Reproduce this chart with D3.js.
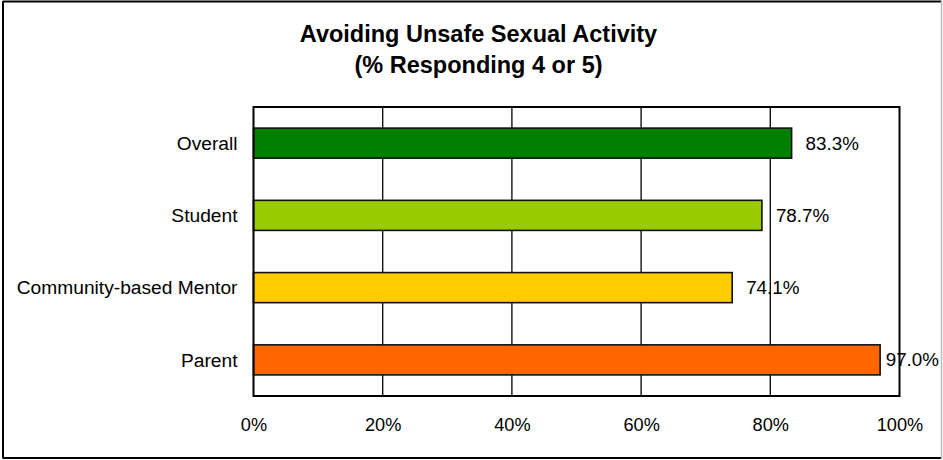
<!DOCTYPE html>
<html>
<head>
<meta charset="utf-8">
<script src="https://cdn.jsdelivr.net/npm/d3@7"></script>
<style>
  html, body { margin: 0; padding: 0; background: #fff; }
  svg { display: block; font-family: Arial, "Liberation Sans", sans-serif; }
</style>
</head>
<body>
<svg id="chart" width="943" height="460"></svg>
<script>
// Chart content
const titleLines = ["Avoiding Unsafe Sexual Activity", "(% Responding 4 or 5)"];
const categories = ["Overall", "Student", "Community-based Mentor", "Parent"];
const values = [83.3, 78.7, 74.1, 97.0];
const barColors = ["#008000", "#99CC00", "#FFCC00", "#FF6600"];
const tickValues = [0, 20, 40, 60, 80, 100];

const svg = d3.select("#chart");

// Plot area
const plot = { left: 253.5, right: 899.5, top: 107, bottom: 396 };

// Outer frame
svg.append("line").attr("x1", 3).attr("x2", 941.5).attr("y1", 1.5).attr("y2", 1.5)
  .attr("stroke", "#000").attr("stroke-width", 2);
svg.append("line").attr("x1", 3).attr("x2", 3).attr("y1", 1).attr("y2", 458.5)
  .attr("stroke", "#000").attr("stroke-width", 2);
svg.append("line").attr("x1", 3).attr("x2", 941.5).attr("y1", 458).attr("y2", 458)
  .attr("stroke", "#000").attr("stroke-width", 2);
svg.append("line").attr("x1", 941.5).attr("x2", 941.5).attr("y1", 1).attr("y2", 458.5)
  .attr("stroke", "#bbb").attr("stroke-width", 1.5);

// Title
const title = svg.append("text")
  .attr("x", 478.5).attr("y", 42.3)
  .attr("text-anchor", "middle")
  .attr("font-weight", "bold")
  .attr("font-size", "23.5px")
  .attr("fill", "#000");
titleLines.forEach((t, i) => {
  title.append("tspan").attr("x", 478.5).attr("dy", i === 0 ? 0 : 30.4).text(t);
});

// Scales
const x = d3.scaleLinear().domain([0, 100]).range([plot.left, plot.right]);
const y = d3.scaleBand().domain(categories).range([plot.top, plot.bottom])
  .paddingInner(0.584).paddingOuter(0.292);

// Vertical gridlines
svg.append("g")
  .selectAll("line")
  .data(tickValues.filter(v => v > 0 && v < 100))
  .join("line")
  .attr("x1", d => x(d)).attr("x2", d => x(d))
  .attr("y1", plot.top).attr("y2", plot.bottom)
  .attr("stroke", "#000").attr("stroke-width", 1.3);

// Bars
svg.append("g")
  .selectAll("rect")
  .data(categories)
  .join("rect")
  .attr("x", x(0))
  .attr("y", d => y(d))
  .attr("width", (d, i) => x(values[i]) - x(0))
  .attr("height", y.bandwidth())
  .attr("fill", (d, i) => barColors[i])
  .attr("stroke", "#111")
  .attr("stroke-width", 1.6);

// Plot border
svg.append("rect")
  .attr("x", plot.left).attr("y", plot.top)
  .attr("width", plot.right - plot.left).attr("height", plot.bottom - plot.top)
  .attr("fill", "none").attr("stroke", "#000").attr("stroke-width", 2);

// Category axis (labels only)
const yAxis = svg.append("g")
  .attr("transform", `translate(${plot.left - 16},0)`)
  .call(d3.axisLeft(y).tickSize(0).tickPadding(0));
yAxis.select(".domain").remove();
yAxis.selectAll("text")
  .attr("font-size", "19.2px")
  .attr("font-family", "Arial, 'Liberation Sans', sans-serif")
  .attr("fill", "#000")
  .attr("dy", "0.35em");

// Value axis (labels only)
const xAxis = svg.append("g")
  .attr("transform", `translate(0,${plot.bottom + 29})`)
  .call(d3.axisBottom(x).tickValues(tickValues).tickFormat(d => d + "%").tickSize(0).tickPadding(0));
xAxis.select(".domain").remove();
xAxis.selectAll("text")
  .attr("font-size", "18.2px")
  .attr("font-family", "Arial, 'Liberation Sans', sans-serif")
  .attr("fill", "#000")
  .attr("dy", "0.35em");

// Value labels, kept inside the chart frame
const labels = svg.append("g")
  .selectAll("text")
  .data(categories)
  .join("text")
  .attr("y", d => y(d) + y.bandwidth() / 2)
  .attr("dy", "0.35em")
  .attr("font-size", "18.8px")
  .attr("fill", "#000")
  .text((d, i) => values[i].toFixed(1) + "%");
labels.each(function (d, i) {
  const w = this.getComputedTextLength();
  const ideal = x(values[i]) + 14;
  d3.select(this).attr("x", Math.min(ideal, 939 - w));
});
</script>
</body>
</html>
